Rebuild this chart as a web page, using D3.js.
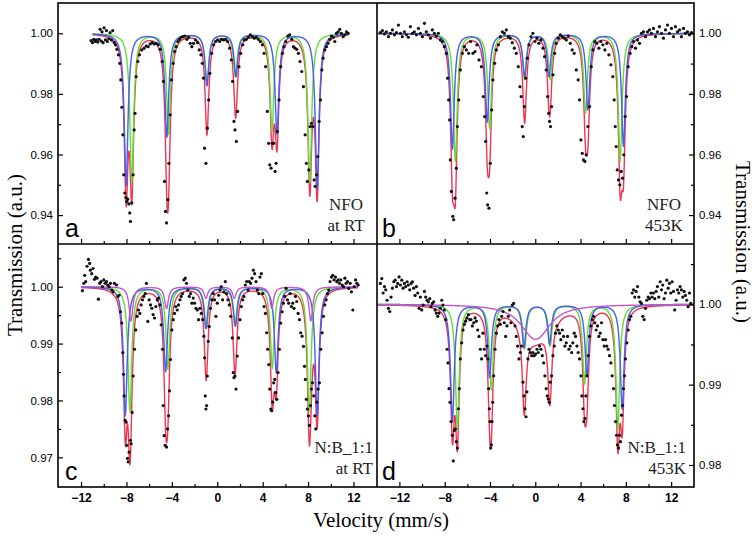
<!DOCTYPE html>
<html><head><meta charset="utf-8">
<script src="https://cdn.jsdelivr.net/npm/d3@7/dist/d3.min.js"></script>
<style>body{margin:0;background:#fff}svg{display:block}</style>
</head><body>
<svg id="chart" width="756" height="538"></svg>
<script>
// ---------- measured data points [velocity mm/s, transmission] ----------
const dataA = [[-11.12,0.9976],[-11.00,0.9969],[-10.88,0.9980],[-10.76,0.9973],[-10.65,0.9978],[-10.53,0.9971],[-10.41,0.9980],[-10.32,1.0013],[-10.21,0.9974],[-10.15,1.0005],[-10.06,0.9969],[-9.97,1.0018],[-9.85,0.9978],[-9.76,1.0009],[-9.68,0.9973],[-9.56,0.9982],[-9.44,1.0002],[-9.32,0.9978],[-9.21,1.0009],[-9.09,0.9970],[-8.97,0.9962],[-8.85,0.9947],[-8.71,0.9929],[-8.59,0.9901],[-8.50,0.9846],[-8.41,0.9756],[-8.32,0.9665],[-8.24,0.9533],[-8.15,0.9473],[-8.06,0.9458],[-7.97,0.9445],[-7.88,0.9453],[-7.79,0.9437],[-7.71,0.9407],[-7.65,0.9379],[-7.53,0.9440],[-7.41,0.9533],[-7.32,0.9681],[-7.24,0.9736],[-7.15,0.9857],[-7.00,0.9907],[-6.85,0.9929],[-6.65,0.9945],[-6.44,0.9951],[-6.26,0.9958],[-6.09,0.9956],[-5.91,0.9965],[-5.74,0.9969],[-5.56,0.9965],[-5.38,0.9967],[-5.21,0.9962],[-5.03,0.9947],[-4.85,0.9907],[-4.74,0.9841],[-4.65,0.9511],[-4.56,0.9412],[-4.47,0.9374],[-4.35,0.9451],[-4.26,0.9571],[-4.15,0.9731],[-4.03,0.9846],[-3.88,0.9901],[-3.74,0.9940],[-3.62,0.9956],[-3.47,0.9973],[-3.32,0.9980],[-3.18,0.9987],[-3.03,0.9989],[-2.85,0.9991],[-2.68,0.9980],[-2.53,0.9987],[-2.38,0.9967],[-2.24,0.9956],[-2.09,0.9967],[-1.91,0.9978],[-1.74,0.9969],[-1.59,0.9945],[-1.44,0.9929],[-1.32,0.9901],[-1.21,0.9852],[-1.12,0.9621],[-1.00,0.9571],[-0.88,0.9687],[-0.76,0.9780],[-0.65,0.9868],[-0.50,0.9934],[-0.32,0.9962],[-0.15,0.9973],[0.03,0.9978],[0.21,0.9973],[0.38,0.9980],[0.56,0.9978],[0.74,0.9980],[0.91,0.9973],[1.09,0.9951],[1.24,0.9912],[1.35,0.9841],[1.47,0.9709],[1.56,0.9681],[1.68,0.9643],[1.79,0.9742],[1.91,0.9890],[2.06,0.9934],[2.24,0.9962],[2.38,0.9978],[2.56,0.9980],[2.74,0.9987],[2.91,0.9995],[3.09,0.9989],[3.26,0.9984],[3.44,0.9987],[3.62,0.9980],[3.79,0.9973],[3.97,0.9962],[4.12,0.9934],[4.26,0.9890],[4.41,0.9742],[4.53,0.9637],[4.62,0.9566],[4.74,0.9555],[4.85,0.9637],[4.97,0.9637],[5.09,0.9544],[5.18,0.9571],[5.29,0.9676],[5.44,0.9780],[5.59,0.9890],[5.74,0.9934],[5.88,0.9956],[6.03,0.9973],[6.21,0.9991],[6.38,0.9995],[6.56,0.9980],[6.71,0.9956],[6.85,0.9951],[7.00,0.9947],[7.15,0.9934],[7.29,0.9907],[7.44,0.9874],[7.59,0.9824],[7.74,0.9665],[7.85,0.9571],[7.94,0.9511],[8.06,0.9549],[8.18,0.9692],[8.29,0.9703],[8.41,0.9692],[8.53,0.9516],[8.62,0.9495],[8.74,0.9533],[8.85,0.9593],[8.97,0.9709],[9.09,0.9780],[9.21,0.9879],[9.32,0.9918],[9.47,0.9945],[9.62,0.9956],[9.76,0.9967],[9.91,0.9980],[10.06,0.9991],[10.21,0.9987],[10.35,0.9973],[10.50,1.0000],[10.65,1.0005],[10.79,1.0013],[10.94,1.0000],[11.09,0.9989],[11.24,0.9995],[11.38,1.0005],[11.53,1.0000]];

const dataB = [[-13.68,1.0002],[-13.50,1.0009],[-13.32,0.9998],[-13.15,1.0005],[-12.97,0.9989],[-12.79,1.0000],[-12.62,1.0011],[-12.44,0.9995],[-12.26,1.0002],[-12.09,1.0027],[-11.91,1.0000],[-11.74,0.9989],[-11.56,1.0005],[-11.38,0.9995],[-11.21,0.9987],[-11.03,1.0022],[-10.85,1.0000],[-10.68,1.0005],[-10.50,0.9995],[-10.32,1.0016],[-10.15,1.0000],[-9.97,0.9989],[-9.79,1.0033],[-9.62,1.0005],[-9.44,0.9995],[-9.26,0.9984],[-9.09,1.0011],[-8.91,1.0000],[-8.74,0.9991],[-8.56,1.0000],[-8.38,0.9978],[-8.21,0.9973],[-8.03,0.9956],[-7.85,0.9934],[-7.74,0.9852],[-7.65,0.9780],[-7.56,0.9714],[-7.50,0.9582],[-7.41,0.9478],[-7.29,0.9396],[-7.21,0.9385],[-7.09,0.9456],[-6.97,0.9555],[-6.88,0.9692],[-6.76,0.9780],[-6.62,0.9879],[-6.44,0.9934],[-6.26,0.9956],[-6.09,0.9945],[-5.88,0.9934],[-5.71,0.9973],[-5.50,0.9934],[-5.32,0.9940],[-5.15,0.9962],[-4.97,0.9912],[-4.76,0.9890],[-4.59,0.9791],[-4.47,0.9725],[-4.38,0.9643],[-4.29,0.9473],[-4.21,0.9434],[-4.09,0.9423],[-3.97,0.9571],[-3.85,0.9747],[-3.74,0.9846],[-3.59,0.9901],[-3.44,0.9945],[-3.26,0.9962],[-3.09,0.9989],[-2.91,1.0005],[-2.74,1.0000],[-2.56,1.0011],[-2.38,0.9989],[-2.21,0.9984],[-2.03,0.9969],[-1.85,0.9951],[-1.68,0.9934],[-1.50,0.9890],[-1.35,0.9824],[-1.24,0.9791],[-1.15,0.9692],[-1.06,0.9659],[-0.97,0.9758],[-0.85,0.9852],[-0.71,0.9918],[-0.56,0.9962],[-0.38,0.9989],[-0.21,1.0000],[-0.03,0.9973],[0.15,0.9984],[0.32,0.9967],[0.50,0.9978],[0.68,0.9951],[0.82,0.9923],[0.97,0.9879],[1.09,0.9791],[1.18,0.9736],[1.26,0.9709],[1.35,0.9692],[1.44,0.9758],[1.56,0.9863],[1.71,0.9934],[1.85,0.9967],[2.03,0.9984],[2.21,0.9995],[2.38,0.9989],[2.56,0.9984],[2.74,0.9978],[2.91,0.9991],[3.09,0.9967],[3.26,0.9945],[3.44,0.9934],[3.62,0.9879],[3.79,0.9846],[3.91,0.9780],[4.03,0.9648],[4.15,0.9604],[4.26,0.9582],[4.38,0.9577],[4.50,0.9599],[4.65,0.9692],[4.79,0.9758],[4.94,0.9890],[5.09,0.9945],[5.26,0.9973],[5.44,0.9967],[5.62,0.9951],[5.79,0.9973],[5.97,0.9962],[6.15,0.9945],[6.32,0.9967],[6.50,0.9929],[6.68,0.9896],[6.85,0.9857],[6.97,0.9780],[7.06,0.9692],[7.15,0.9626],[7.24,0.9549],[7.35,0.9516],[7.47,0.9500],[7.59,0.9544],[7.71,0.9522],[7.82,0.9599],[7.94,0.9725],[8.06,0.9791],[8.21,0.9890],[8.38,0.9934],[8.53,0.9956],[8.68,0.9973],[8.85,0.9951],[9.03,0.9978],[9.21,0.9967],[9.38,1.0000],[9.56,1.0005],[9.74,0.9989],[9.91,1.0005],[10.09,1.0011],[10.26,1.0000],[10.44,1.0016],[10.62,0.9989],[10.79,1.0005],[10.97,1.0022],[11.15,1.0000],[11.32,0.9984],[11.50,1.0011],[11.68,1.0027],[11.85,1.0000],[12.03,1.0016],[12.21,0.9989],[12.38,1.0022],[12.56,1.0005],[12.74,1.0011],[12.91,0.9989],[13.09,1.0016],[13.26,1.0000],[13.44,1.0005],[13.62,0.9995],[13.79,1.0002]];

const dataC = [[-11.88,0.9993],[-11.76,1.0006],[-11.68,1.0020],[-11.59,1.0009],[-11.47,1.0036],[-11.35,1.0048],[-11.24,1.0041],[-11.18,1.0029],[-11.06,1.0023],[-10.94,1.0032],[-10.82,1.0013],[-10.71,1.0017],[-10.59,1.0015],[-10.47,0.9978],[-10.35,1.0006],[-10.24,1.0009],[-10.12,1.0000],[-10.00,1.0012],[-9.88,1.0006],[-9.76,1.0009],[-9.65,1.0003],[-9.53,1.0000],[-9.41,1.0006],[-9.29,0.9994],[-9.18,0.9991],[-9.06,1.0006],[-8.88,1.0003],[-8.76,0.9983],[-8.65,0.9985],[-8.53,0.9956],[-8.41,0.9936],[-8.32,0.9884],[-8.26,0.9846],[-8.21,0.9808],[-8.12,0.9765],[-8.03,0.9762],[-7.97,0.9721],[-7.91,0.9698],[-7.85,0.9692],[-7.76,0.9709],[-7.65,0.9730],[-7.59,0.9724],[-7.50,0.9779],[-7.41,0.9843],[-7.29,0.9890],[-7.18,0.9924],[-7.06,0.9948],[-6.94,0.9959],[-6.82,0.9953],[-6.71,0.9968],[-6.59,0.9977],[-6.47,0.9983],[-6.35,0.9988],[-6.24,1.0006],[-6.12,0.9939],[-6.00,0.9977],[-5.88,0.9968],[-5.76,0.9962],[-5.65,0.9951],[-5.53,0.9945],[-5.41,0.9965],[-5.29,0.9977],[-5.18,0.9980],[-5.06,0.9968],[-4.94,0.9933],[-4.82,0.9890],[-4.76,0.9791],[-4.68,0.9738],[-4.59,0.9721],[-4.47,0.9718],[-4.38,0.9750],[-4.29,0.9773],[-4.21,0.9817],[-4.12,0.9872],[-4.00,0.9924],[-3.88,0.9942],[-3.76,0.9953],[-3.65,0.9965],[-3.53,0.9959],[-3.41,0.9968],[-3.29,0.9977],[-3.18,0.9983],[-3.06,0.9988],[-2.94,1.0012],[-2.82,1.0015],[-2.71,1.0006],[-2.59,0.9994],[-2.47,0.9983],[-2.35,0.9988],[-2.24,0.9971],[-2.12,0.9980],[-2.00,0.9971],[-1.88,0.9962],[-1.76,0.9959],[-1.65,0.9942],[-1.53,0.9962],[-1.41,0.9953],[-1.29,0.9942],[-1.18,0.9913],[-1.12,0.9875],[-1.06,0.9808],[-1.00,0.9785],[-0.94,0.9791],[-0.88,0.9843],[-0.79,0.9904],[-0.71,0.9930],[-0.59,0.9962],[-0.47,0.9977],[-0.35,0.9988],[-0.24,0.9977],[-0.12,0.9948],[0.00,0.9971],[0.12,0.9985],[0.24,0.9994],[0.35,1.0000],[0.47,0.9977],[0.59,0.9991],[0.71,1.0009],[0.82,0.9988],[0.94,0.9977],[1.06,0.9968],[1.18,0.9948],[1.32,0.9910],[1.41,0.9849],[1.47,0.9840],[1.56,0.9843],[1.65,0.9820],[1.76,0.9878],[1.88,0.9910],[2.00,0.9942],[2.12,0.9965],[2.24,0.9977],[2.35,0.9983],[2.47,1.0003],[2.59,1.0009],[2.71,0.9994],[2.82,1.0009],[2.94,1.0006],[3.06,1.0015],[3.18,1.0029],[3.29,1.0023],[3.41,1.0009],[3.53,0.9994],[3.65,0.9988],[3.76,1.0017],[3.88,1.0023],[4.00,0.9988],[4.12,0.9965],[4.24,0.9953],[4.35,0.9919],[4.44,0.9890],[4.53,0.9863],[4.62,0.9820],[4.71,0.9785],[4.79,0.9782],[4.88,0.9797],[4.97,0.9831],[5.06,0.9837],[5.15,0.9814],[5.24,0.9802],[5.35,0.9849],[5.47,0.9890],[5.59,0.9936],[5.71,0.9956],[5.82,0.9971],[5.94,0.9983],[6.06,0.9997],[6.18,0.9977],[6.29,0.9971],[6.41,0.9988],[6.53,0.9965],[6.65,0.9971],[6.76,0.9962],[6.88,0.9983],[7.00,0.9974],[7.12,0.9953],[7.24,0.9942],[7.35,0.9919],[7.47,0.9913],[7.59,0.9895],[7.68,0.9860],[7.76,0.9837],[7.85,0.9802],[7.94,0.9785],[8.03,0.9773],[8.12,0.9756],[8.21,0.9791],[8.29,0.9820],[8.38,0.9831],[8.50,0.9808],[8.59,0.9773],[8.68,0.9750],[8.76,0.9797],[8.88,0.9820],[9.00,0.9831],[9.12,0.9890],[9.24,0.9919],[9.35,0.9948],[9.47,0.9968],[9.59,0.9977],[9.71,0.9988],[9.82,0.9994],[9.94,1.0009],[10.06,1.0017],[10.18,1.0020],[10.29,1.0012],[10.41,1.0017],[10.53,1.0009],[10.65,1.0012],[10.76,1.0006],[10.88,1.0012],[11.00,1.0003],[11.12,1.0000],[11.24,1.0015],[11.35,1.0006],[11.47,1.0009],[11.59,0.9997],[11.71,1.0006],[11.82,0.9991],[11.94,0.9959],[12.06,1.0000],[12.18,1.0012],[12.29,1.0006],[12.41,1.0003]];

const dataD = [[-13.68,1.0026],[-13.56,1.0032],[-13.44,1.0014],[-13.32,1.0022],[-13.21,1.0018],[-13.09,1.0005],[-12.97,0.9995],[-12.85,0.9991],[-12.74,1.0009],[-12.62,1.0020],[-12.50,1.0028],[-12.38,1.0030],[-12.26,1.0022],[-12.15,1.0026],[-12.03,1.0034],[-11.91,1.0024],[-11.79,1.0030],[-11.68,1.0020],[-11.56,1.0026],[-11.44,1.0022],[-11.32,1.0028],[-11.21,1.0024],[-11.09,1.0018],[-10.97,1.0026],[-10.85,1.0028],[-10.74,1.0020],[-10.62,1.0011],[-10.50,1.0022],[-10.38,1.0014],[-10.26,0.9995],[-10.15,1.0009],[-10.03,0.9993],[-9.91,0.9999],[-9.79,1.0016],[-9.68,1.0009],[-9.56,1.0005],[-9.44,1.0003],[-9.32,1.0007],[-9.21,0.9997],[-9.09,1.0001],[-8.97,1.0003],[-8.85,0.9993],[-8.74,0.9989],[-8.62,0.9985],[-8.50,0.9989],[-8.38,0.9995],[-8.26,1.0005],[-8.15,0.9999],[-8.03,0.9993],[-7.91,0.9981],[-7.79,0.9944],[-7.71,0.9927],[-7.62,0.9895],[-7.53,0.9878],[-7.44,0.9854],[-7.32,0.9837],[-7.24,0.9805],[-7.15,0.9843],[-7.06,0.9845],[-6.97,0.9829],[-6.88,0.9821],[-6.79,0.9870],[-6.71,0.9895],[-6.62,0.9932],[-6.50,0.9952],[-6.38,0.9968],[-6.26,0.9975],[-6.15,0.9979],[-6.03,0.9983],[-5.91,0.9987],[-5.79,0.9981],[-5.68,0.9981],[-5.56,0.9973],[-5.44,0.9977],[-5.32,0.9983],[-5.21,0.9979],[-5.09,0.9968],[-4.97,0.9960],[-4.85,0.9944],[-4.74,0.9932],[-4.62,0.9964],[-4.50,0.9944],[-4.38,0.9936],[-4.26,0.9948],[-4.18,0.9932],[-4.12,0.9895],[-4.06,0.9870],[-4.00,0.9854],[-3.94,0.9821],[-3.88,0.9825],[-3.82,0.9854],[-3.76,0.9878],[-3.68,0.9911],[-3.56,0.9944],[-3.44,0.9964],[-3.32,0.9973],[-3.21,0.9981],[-3.09,0.9975],[-2.97,0.9985],[-2.85,0.9991],[-2.74,0.9977],[-2.62,0.9960],[-2.50,0.9973],[-2.38,0.9985],[-2.26,0.9993],[-2.15,0.9977],[-2.03,0.9999],[-1.91,1.0001],[-1.79,0.9973],[-1.68,0.9960],[-1.56,0.9948],[-1.44,0.9932],[-1.32,0.9940],[-1.21,0.9948],[-1.09,0.9903],[-1.00,0.9886],[-0.91,0.9870],[-0.82,0.9860],[-0.74,0.9891],[-0.65,0.9932],[-0.56,0.9944],[-0.44,0.9940],[-0.32,0.9936],[-0.21,0.9940],[-0.09,0.9936],[0.03,0.9938],[0.15,0.9944],[0.26,0.9940],[0.38,0.9948],[0.50,0.9944],[0.62,0.9936],[0.74,0.9927],[0.85,0.9911],[0.97,0.9895],[1.06,0.9886],[1.15,0.9882],[1.24,0.9878],[1.32,0.9903],[1.44,0.9911],[1.56,0.9936],[1.68,0.9948],[1.79,0.9964],[1.91,0.9973],[2.03,0.9968],[2.15,0.9964],[2.26,0.9956],[2.38,0.9968],[2.50,0.9960],[2.62,0.9948],[2.74,0.9952],[2.85,0.9960],[2.97,0.9944],[3.09,0.9948],[3.21,0.9940],[3.32,0.9952],[3.44,0.9964],[3.56,0.9960],[3.68,0.9948],[3.79,0.9940],[3.91,0.9932],[4.03,0.9911],[4.12,0.9886],[4.21,0.9870],[4.29,0.9854],[4.38,0.9858],[4.47,0.9886],[4.56,0.9911],[4.68,0.9936],[4.79,0.9960],[4.91,0.9973],[5.03,0.9981],[5.15,0.9985],[5.26,0.9977],[5.38,0.9968],[5.50,0.9973],[5.62,0.9960],[5.74,0.9964],[5.85,0.9977],[5.97,0.9956],[6.09,0.9948],[6.21,0.9956],[6.32,0.9948],[6.44,0.9944],[6.56,0.9936],[6.68,0.9927],[6.79,0.9911],[6.91,0.9895],[7.00,0.9874],[7.09,0.9854],[7.18,0.9837],[7.26,0.9825],[7.35,0.9821],[7.44,0.9837],[7.53,0.9829],[7.62,0.9862],[7.71,0.9874],[7.79,0.9895],[7.88,0.9911],[7.97,0.9932],[8.09,0.9952],[8.21,0.9968],[8.32,0.9981],[8.44,0.9985],[8.56,1.0014],[8.68,1.0018],[8.79,1.0009],[8.91,1.0016],[9.03,1.0022],[9.15,1.0009],[9.26,1.0003],[9.38,1.0001],[9.50,0.9985],[9.62,0.9981],[9.74,0.9995],[9.85,1.0005],[9.97,1.0009],[10.09,1.0007],[10.21,1.0014],[10.32,1.0009],[10.44,1.0014],[10.56,1.0007],[10.68,1.0016],[10.79,1.0022],[10.91,1.0009],[11.03,1.0028],[11.15,1.0018],[11.26,1.0024],[11.38,1.0007],[11.50,1.0014],[11.62,1.0030],[11.74,1.0020],[11.85,1.0026],[11.97,1.0014],[12.09,1.0028],[12.21,1.0016],[12.32,0.9993],[12.44,1.0005],[12.56,1.0018],[12.68,1.0014],[12.79,1.0022],[12.91,1.0018],[13.03,1.0009],[13.15,1.0016],[13.26,1.0011],[13.38,1.0005],[13.50,0.9997],[13.62,1.0014],[13.74,1.0001]];

// ---------- fitted sub-spectra: [line position mm/s, absorption depth] ----------
const blueA  = [[-8.03,0.050],[-4.44,0.034],[-0.91,0.017],[1.65,0.014],[5.26,0.033],[8.80,0.051]];
const greenA = [[-7.53,0.049],[-4.29,0.033],[-0.91,0.016],[1.59,0.014],[4.82,0.032],[8.15,0.049]];
const blueB  = [[-7.32,0.038],[-4.24,0.029],[-0.94,0.014],[1.21,0.014],[4.65,0.025],[7.79,0.037]];
const greenB = [[-7.06,0.042],[-4.03,0.031],[-0.94,0.015],[1.32,0.015],[4.44,0.026],[7.50,0.042]];
const blueC  = [[-8.10,0.0225],[-4.55,0.0148],[-1.00,0.0072],[1.60,0.0068],[5.20,0.0150],[8.80,0.0225]];
const greenC = [[-7.70,0.0218],[-4.35,0.0144],[-0.95,0.0072],[1.55,0.0068],[4.85,0.0142],[8.10,0.0218]];
const magentaC = [[-7.60,0.0060],[-4.47,0.0038],[-1.00,0.0020],[1.50,0.0020],[4.80,0.0038],[8.24,0.0060]];
const blueD  = [[-7.32,0.0145],[-4.03,0.0090],[-1.00,0.0053],[1.26,0.0049],[4.56,0.0088],[7.68,0.0130]];
const greenD = [[-6.88,0.0155],[-3.88,0.0105],[-0.94,0.0054],[1.32,0.0051],[4.35,0.0098],[7.29,0.0155]];
const magentaD = [[-0.30,0.0023],[0.35,0.0023]];
const lineHWHM = 0.2;        // half width of sextet lines (mm/s)
const doubletHWHM = 1.4;     // half width of broad doublet in d
const fitRangeA = [-11.0, 11.6], fitRangeB = [-14, 14.1], fitRangeC = [-12.0, 12.4], fitRangeD = [-14, 14.1];

// ---------- ticks / labels ----------
const xTicks = [-12,-8,-4,0,4,8,12];
const xMinor = [-14,-10,-6,-2,2,6,10,14];
const yTicksAB = [0.94,0.96,0.98,1.00], yMinorAB = [0.95,0.97,0.99,1.01];
const yTicksC = [0.97,0.98,0.99,1.00], yMinorC = [0.975,0.985,0.995,1.005];
const yTicksD = [0.98,0.99,1.00], yMinorD = [0.985,0.995,1.005];
const panelLetters = ["a","b","c","d"];
const panelNotes = [["NFO","at RT"],["NFO","453K"],["N:B_1:1","at RT"],["N:B_1:1","453K"]];
const yTitle = "Transmission (a.u.)", xTitle = "Velocity (mm/s)";

const COL = {red:"#ef3552", blue:"#4b5cf0", green:"#62de36", magenta:"#c457cf"};

const svg = d3.select("#chart");
const L = 58, R = 694, T = 3, B = 487, MX = 377, MY = 244;

const panels = [
  {x0:L, x1:MX, y0:T, y1:MY, xd:[-14.03,14.07], yd:[0.93046,1.0100], data:dataA, comps:[[blueA,lineHWHM,"blue"],[greenA,lineHWHM,"green"]], fr:fitRangeA, yt:yTicksAB, ym:yMinorAB, side:"left", xlab:false, fmt:".2f"},
  {x0:MX, x1:R, y0:T, y1:MY, xd:[-13.98,14.02], yd:[0.93046,1.0100], data:dataB, comps:[[blueB,lineHWHM,"blue"],[greenB,lineHWHM,"green"]], fr:fitRangeB, yt:yTicksAB, ym:yMinorAB, side:"right", xlab:false, fmt:".2f"},
  {x0:L, x1:MX, y0:MY, y1:B, xd:[-14.03,14.07], yd:[0.96478,1.00751], data:dataC, comps:[[blueC,lineHWHM,"blue"],[greenC,lineHWHM,"green"],[magentaC,lineHWHM,"magenta"]], fr:fitRangeC, yt:yTicksC, ym:yMinorC, side:"left", xlab:true, fmt:".2f"},
  {x0:MX, x1:R, y0:MY, y1:B, xd:[-13.98,14.02], yd:[0.97726,1.0075], data:dataD, comps:[[blueD,lineHWHM,"blue"],[greenD,lineHWHM,"green"],[magentaD,doubletHWHM,"magenta"]], fr:fitRangeD, yt:yTicksD, ym:yMinorD, side:"right", xlab:true, fmt:".2f"}
];

function absorb(v, lines, w){ return d3.sum(lines, ([p,d]) => d/(1+((v-p)/w)**2)); }

const defs = svg.append("defs");
panels.forEach((p,i) => {
  const x = d3.scaleLinear().domain(p.xd).range([p.x0,p.x1]);
  const y = d3.scaleLinear().domain(p.yd).range([p.y1,p.y0]);
  defs.append("clipPath").attr("id","clip"+i).append("rect")
    .attr("x",p.x0).attr("y",p.y0).attr("width",p.x1-p.x0).attr("height",p.y1-p.y0);
  const g = svg.append("g").attr("clip-path",`url(#clip${i})`);
  const vs = d3.range(p.fr[0], p.fr[1]+0.0001, 0.01);
  const line = d3.line().x(d=>x(d[0])).y(d=>y(d[1]));
  // total fit (red)
  const total = vs.map(v => [v, 1 - d3.sum(p.comps, c => absorb(v,c[0],c[1]))]);
  g.append("path").attr("d",line(total)).attr("fill","none").attr("stroke",COL.red).attr("stroke-width",1.4);
  // components (draw green, blue, magenta)
  const order = ["green","blue","magenta"];
  order.forEach(name => {
    p.comps.filter(c=>c[2]===name).forEach(c => {
      const pts = vs.map(v => [v, 1 - absorb(v,c[0],c[1])]);
      g.append("path").attr("d",line(pts)).attr("fill","none").attr("stroke",COL[name]).attr("stroke-width",1.4);
    });
  });
  // data points
  g.selectAll("circle.pt").data(p.data).join("circle").attr("class","pt")
    .attr("cx",d=>x(d[0])).attr("cy",d=>y(d[1])).attr("r",1.6).attr("fill","#111");

  // axes
  const ax = svg.append("g").attr("font-family","Liberation Sans, Arial, sans-serif");
  const xa = d3.axisBottom(x).tickValues(xTicks).tickSize(-5).tickPadding(6)
    .tickFormat(p.xlab ? d3.format("d") : "");
  const xg = ax.append("g").attr("transform",`translate(0,${p.y1})`).call(xa);
  const xm = ax.append("g").attr("transform",`translate(0,${p.y1})`)
    .call(d3.axisBottom(x).tickValues(xMinor.filter(v=>x(v)>p.x0+2&&x(v)<p.x1-2)).tickSize(-3).tickFormat(""));
  const yAxisFn = p.side==="left" ? d3.axisLeft : d3.axisRight;
  const yg = ax.append("g").attr("transform",`translate(${p.side==="left"?p.x0:p.x1},0)`)
    .call(yAxisFn(y).tickValues(p.yt).tickSize(-5).tickPadding(5).tickFormat(d3.format(p.fmt)));
  const ymg = ax.append("g").attr("transform",`translate(${p.side==="left"?p.x0:p.x1},0)`)
    .call(yAxisFn(y).tickValues(p.ym.filter(v=>y(v)>p.y0+2&&y(v)<p.y1-2)).tickSize(-3).tickFormat(""));
  [xg,xm,yg,ymg].forEach(s => { s.select(".domain").remove(); s.selectAll("line").attr("stroke","#000").attr("stroke-width",1.2); });
  xg.selectAll("text").attr("font-size",12).attr("font-weight","bold").attr("fill","#000");
  yg.selectAll("text").attr("font-size",11.5).attr("fill","#000");

  // panel letter
  svg.append("text").attr("x",p.x0+(i%2===0?7:5)).attr("y",p.y1-7)
    .attr("font-family","Liberation Sans, Arial, sans-serif").attr("font-size",25).text(panelLetters[i]);
  // notes
  const note = svg.append("text").attr("font-family","Liberation Serif, Times New Roman, serif").attr("font-size",17).attr("fill","#222");
  const nx = i===0 ? 346 : i===1 ? 664 : i===2 ? 373 : 686;
  const anchor = i<2 ? "middle" : "end";
  note.attr("text-anchor",anchor);
  note.append("tspan").attr("x",nx).attr("y",p.y1-34).text(panelNotes[i][0]);
  note.append("tspan").attr("x",nx).attr("y",p.y1-13).text(panelNotes[i][1]);
});

// frame
svg.append("rect").attr("x",L).attr("y",T).attr("width",R-L).attr("height",B-T)
  .attr("fill","none").attr("stroke","#000").attr("stroke-width",1.6);
svg.append("line").attr("x1",MX).attr("x2",MX).attr("y1",T).attr("y2",B).attr("stroke","#000").attr("stroke-width",1.6);
svg.append("line").attr("x1",L).attr("x2",R).attr("y1",MY).attr("y2",MY).attr("stroke","#000").attr("stroke-width",1.6);

// titles
const serif = "Liberation Serif, Times New Roman, serif";
svg.append("text").attr("transform","translate(22,255) rotate(-90)").attr("text-anchor","middle")
  .attr("font-family",serif).attr("font-size",21).text(yTitle);
svg.append("text").attr("transform","translate(736,242) rotate(90)").attr("text-anchor","middle")
  .attr("font-family",serif).attr("font-size",21).text(yTitle);
svg.append("text").attr("x",381).attr("y",527).attr("text-anchor","middle")
  .attr("font-family",serif).attr("font-size",21).text(xTitle);
</script>
</body></html>
